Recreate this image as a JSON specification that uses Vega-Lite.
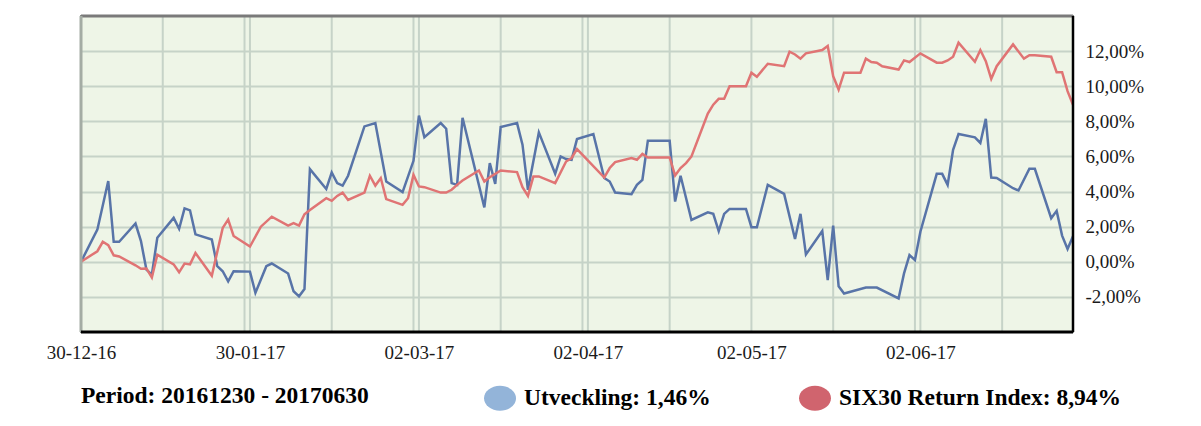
{
  "$schema": "https://vega.github.io/schema/vega-lite/v6.json",
  "width": 992,
  "height": 316,
  "autosize": {"type": "none"},
  "padding": {"left": 81, "top": 16, "right": 128, "bottom": 94},
  "background": "#ffffff",
  "config": {
    "view": {"fill": "#EEF5E7", "stroke": "#8A8F8A", "strokeWidth": 2},
    "font": "Liberation Serif"
  },
  "datasets": {
    "grid": [
      {"date": "2017/01/14"}, {"date": "2017/01/29"}, {"date": "2017/01/30"}, {"date": "2017/02/14"},
      {"date": "2017/03/01"}, {"date": "2017/03/02"}, {"date": "2017/03/17"}, {"date": "2017/04/01"},
      {"date": "2017/04/02"}, {"date": "2017/04/17"}, {"date": "2017/05/02"}, {"date": "2017/05/17"},
      {"date": "2017/06/01"}, {"date": "2017/06/02"}, {"date": "2017/06/17"}
    ],
    "frame": [{"top": 14, "bottom": -4, "left": "2016/12/30", "right": "2017/06/30"}],
    "utv": [
      {"date": "2016/12/30", "value": 0}, {"date": "2017/01/02", "value": 1.83}, {"date": "2017/01/04", "value": 4.6},
      {"date": "2017/01/05", "value": 1.14}, {"date": "2017/01/06", "value": 1.14}, {"date": "2017/01/09", "value": 2.18},
      {"date": "2017/01/10", "value": 1.18}, {"date": "2017/01/11", "value": -0.45}, {"date": "2017/01/12", "value": -0.73},
      {"date": "2017/01/13", "value": 1.37}, {"date": "2017/01/16", "value": 2.5}, {"date": "2017/01/17", "value": 1.88},
      {"date": "2017/01/18", "value": 3.04}, {"date": "2017/01/19", "value": 2.93}, {"date": "2017/01/20", "value": 1.56},
      {"date": "2017/01/23", "value": 1.27}, {"date": "2017/01/24", "value": -0.25}, {"date": "2017/01/25", "value": -0.54},
      {"date": "2017/01/26", "value": -1.12}, {"date": "2017/01/27", "value": -0.54}, {"date": "2017/01/30", "value": -0.56},
      {"date": "2017/01/31", "value": -1.77}, {"date": "2017/02/02", "value": -0.25}, {"date": "2017/02/03", "value": -0.1},
      {"date": "2017/02/06", "value": -0.67}, {"date": "2017/02/07", "value": -1.68}, {"date": "2017/02/08", "value": -1.97},
      {"date": "2017/02/09", "value": -1.55}, {"date": "2017/02/10", "value": 5.28}, {"date": "2017/02/13", "value": 4.15},
      {"date": "2017/02/14", "value": 5.09}, {"date": "2017/02/15", "value": 4.48}, {"date": "2017/02/16", "value": 4.34},
      {"date": "2017/02/17", "value": 4.9}, {"date": "2017/02/20", "value": 7.71}, {"date": "2017/02/22", "value": 7.9},
      {"date": "2017/02/24", "value": 4.57}, {"date": "2017/02/27", "value": 3.97}, {"date": "2017/03/01", "value": 5.75},
      {"date": "2017/03/02", "value": 8.33}, {"date": "2017/03/03", "value": 7.1}, {"date": "2017/03/06", "value": 7.9},
      {"date": "2017/03/07", "value": 7.58}, {"date": "2017/03/08", "value": 4.48}, {"date": "2017/03/09", "value": 4.38},
      {"date": "2017/03/10", "value": 8.2}, {"date": "2017/03/14", "value": 3.1}, {"date": "2017/03/15", "value": 5.62},
      {"date": "2017/03/16", "value": 4.44}, {"date": "2017/03/17", "value": 7.68}, {"date": "2017/03/20", "value": 7.9},
      {"date": "2017/03/21", "value": 6.67}, {"date": "2017/03/22", "value": 4.1}, {"date": "2017/03/24", "value": 7.37},
      {"date": "2017/03/27", "value": 5.01}, {"date": "2017/03/28", "value": 6.0}, {"date": "2017/03/29", "value": 5.85},
      {"date": "2017/03/30", "value": 5.81}, {"date": "2017/03/31", "value": 6.99}, {"date": "2017/04/03", "value": 7.28},
      {"date": "2017/04/05", "value": 4.77}, {"date": "2017/04/06", "value": 4.57}, {"date": "2017/04/07", "value": 3.94},
      {"date": "2017/04/10", "value": 3.85}, {"date": "2017/04/11", "value": 4.38}, {"date": "2017/04/12", "value": 4.67},
      {"date": "2017/04/13", "value": 6.9}, {"date": "2017/04/17", "value": 6.9}, {"date": "2017/04/18", "value": 3.43},
      {"date": "2017/04/19", "value": 4.9}, {"date": "2017/04/21", "value": 2.38}, {"date": "2017/04/24", "value": 2.82},
      {"date": "2017/04/25", "value": 2.73}, {"date": "2017/04/26", "value": 1.75}, {"date": "2017/04/27", "value": 2.73},
      {"date": "2017/04/28", "value": 3.01}, {"date": "2017/05/01", "value": 3.01}, {"date": "2017/05/02", "value": 1.97},
      {"date": "2017/05/03", "value": 1.97}, {"date": "2017/05/05", "value": 4.38}, {"date": "2017/05/08", "value": 3.87},
      {"date": "2017/05/10", "value": 1.3}, {"date": "2017/05/11", "value": 2.73}, {"date": "2017/05/12", "value": 0.42},
      {"date": "2017/05/15", "value": 1.75}, {"date": "2017/05/16", "value": -1.05}, {"date": "2017/05/17", "value": 2.06},
      {"date": "2017/05/18", "value": -1.39}, {"date": "2017/05/19", "value": -1.81}, {"date": "2017/05/23", "value": -1.47},
      {"date": "2017/05/25", "value": -1.47}, {"date": "2017/05/29", "value": -2.09}, {"date": "2017/05/30", "value": -0.66},
      {"date": "2017/05/31", "value": 0.38}, {"date": "2017/06/01", "value": 0.1}, {"date": "2017/06/02", "value": 1.71},
      {"date": "2017/06/05", "value": 5.01}, {"date": "2017/06/06", "value": 5.01}, {"date": "2017/06/07", "value": 4.38},
      {"date": "2017/06/08", "value": 6.38}, {"date": "2017/06/09", "value": 7.28}, {"date": "2017/06/12", "value": 7.09},
      {"date": "2017/06/13", "value": 6.77}, {"date": "2017/06/14", "value": 8.14}, {"date": "2017/06/15", "value": 4.8},
      {"date": "2017/06/16", "value": 4.77}, {"date": "2017/06/19", "value": 4.19}, {"date": "2017/06/20", "value": 4.06},
      {"date": "2017/06/22", "value": 5.3}, {"date": "2017/06/23", "value": 5.3}, {"date": "2017/06/26", "value": 2.48},
      {"date": "2017/06/27", "value": 2.9}, {"date": "2017/06/28", "value": 1.49}, {"date": "2017/06/29", "value": 0.73},
      {"date": "2017/06/30", "value": 1.46}
    ],
    "six": [
      {"date": "2016/12/30", "value": 0}, {"date": "2017/01/02", "value": 0.6}, {"date": "2017/01/03", "value": 1.14},
      {"date": "2017/01/04", "value": 0.95}, {"date": "2017/01/05", "value": 0.37}, {"date": "2017/01/06", "value": 0.3},
      {"date": "2017/01/09", "value": -0.2}, {"date": "2017/01/10", "value": -0.4}, {"date": "2017/01/11", "value": -0.38},
      {"date": "2017/01/12", "value": -0.9}, {"date": "2017/01/13", "value": 0.4}, {"date": "2017/01/16", "value": -0.15},
      {"date": "2017/01/17", "value": -0.6}, {"date": "2017/01/18", "value": -0.1}, {"date": "2017/01/19", "value": -0.15},
      {"date": "2017/01/20", "value": 0.5}, {"date": "2017/01/23", "value": -0.8}, {"date": "2017/01/25", "value": 1.93},
      {"date": "2017/01/26", "value": 2.4}, {"date": "2017/01/27", "value": 1.47}, {"date": "2017/01/30", "value": 0.87},
      {"date": "2017/02/01", "value": 2.0}, {"date": "2017/02/03", "value": 2.57}, {"date": "2017/02/06", "value": 2.06},
      {"date": "2017/02/07", "value": 2.2}, {"date": "2017/02/08", "value": 2.06}, {"date": "2017/02/09", "value": 2.71},
      {"date": "2017/02/10", "value": 2.95}, {"date": "2017/02/13", "value": 3.62}, {"date": "2017/02/14", "value": 3.47},
      {"date": "2017/02/15", "value": 3.75}, {"date": "2017/02/16", "value": 3.94}, {"date": "2017/02/17", "value": 3.52},
      {"date": "2017/02/20", "value": 3.94}, {"date": "2017/02/21", "value": 4.9}, {"date": "2017/02/22", "value": 4.34},
      {"date": "2017/02/23", "value": 4.77}, {"date": "2017/02/24", "value": 3.57}, {"date": "2017/02/27", "value": 3.24},
      {"date": "2017/02/28", "value": 3.62}, {"date": "2017/03/01", "value": 4.95}, {"date": "2017/03/02", "value": 4.29},
      {"date": "2017/03/03", "value": 4.25}, {"date": "2017/03/06", "value": 3.94}, {"date": "2017/03/07", "value": 3.94},
      {"date": "2017/03/08", "value": 4.1}, {"date": "2017/03/09", "value": 4.38}, {"date": "2017/03/10", "value": 4.63},
      {"date": "2017/03/13", "value": 5.2}, {"date": "2017/03/14", "value": 4.57}, {"date": "2017/03/15", "value": 4.82},
      {"date": "2017/03/17", "value": 5.2}, {"date": "2017/03/20", "value": 5.11}, {"date": "2017/03/21", "value": 4.25},
      {"date": "2017/03/22", "value": 3.75}, {"date": "2017/03/23", "value": 4.86}, {"date": "2017/03/24", "value": 4.86},
      {"date": "2017/03/27", "value": 4.48}, {"date": "2017/03/29", "value": 5.71}, {"date": "2017/03/30", "value": 5.91},
      {"date": "2017/03/31", "value": 6.42}, {"date": "2017/04/05", "value": 4.8}, {"date": "2017/04/06", "value": 5.34},
      {"date": "2017/04/07", "value": 5.68}, {"date": "2017/04/10", "value": 5.91}, {"date": "2017/04/11", "value": 5.81},
      {"date": "2017/04/12", "value": 6.14}, {"date": "2017/04/13", "value": 5.94}, {"date": "2017/04/17", "value": 5.94},
      {"date": "2017/04/18", "value": 4.91}, {"date": "2017/04/19", "value": 5.34}, {"date": "2017/04/20", "value": 5.62},
      {"date": "2017/04/21", "value": 6.0}, {"date": "2017/04/24", "value": 8.44}, {"date": "2017/04/25", "value": 8.95},
      {"date": "2017/04/26", "value": 9.28}, {"date": "2017/04/27", "value": 9.28}, {"date": "2017/04/28", "value": 10.0},
      {"date": "2017/05/01", "value": 10.0}, {"date": "2017/05/02", "value": 10.77}, {"date": "2017/05/03", "value": 10.54},
      {"date": "2017/05/05", "value": 11.28}, {"date": "2017/05/08", "value": 11.14}, {"date": "2017/05/09", "value": 11.97},
      {"date": "2017/05/10", "value": 11.81}, {"date": "2017/05/11", "value": 11.57}, {"date": "2017/05/12", "value": 11.87},
      {"date": "2017/05/15", "value": 12.06}, {"date": "2017/05/16", "value": 12.29}, {"date": "2017/05/17", "value": 10.57},
      {"date": "2017/05/18", "value": 9.81}, {"date": "2017/05/19", "value": 10.77}, {"date": "2017/05/22", "value": 10.77},
      {"date": "2017/05/23", "value": 11.57}, {"date": "2017/05/24", "value": 11.38}, {"date": "2017/05/25", "value": 11.34},
      {"date": "2017/05/26", "value": 11.14}, {"date": "2017/05/29", "value": 10.95}, {"date": "2017/05/30", "value": 11.47},
      {"date": "2017/05/31", "value": 11.38}, {"date": "2017/06/02", "value": 11.87}, {"date": "2017/06/05", "value": 11.34},
      {"date": "2017/06/06", "value": 11.34}, {"date": "2017/06/07", "value": 11.47}, {"date": "2017/06/08", "value": 11.68},
      {"date": "2017/06/09", "value": 12.48}, {"date": "2017/06/12", "value": 11.39}, {"date": "2017/06/13", "value": 12.06},
      {"date": "2017/06/14", "value": 11.43}, {"date": "2017/06/15", "value": 10.42}, {"date": "2017/06/16", "value": 11.14},
      {"date": "2017/06/19", "value": 12.38}, {"date": "2017/06/21", "value": 11.57}, {"date": "2017/06/22", "value": 11.77},
      {"date": "2017/06/23", "value": 11.77}, {"date": "2017/06/26", "value": 11.68}, {"date": "2017/06/27", "value": 10.8},
      {"date": "2017/06/28", "value": 10.8}, {"date": "2017/06/29", "value": 9.72}, {"date": "2017/06/30", "value": 8.94}
    ]
  },
  "encoding": {
    "x": {
      "field": "date",
      "type": "temporal",
      "scale": {"domain": [{"year": 2016, "month": 12, "date": 30}, {"year": 2017, "month": 6, "date": 30}]},
      "axis": {
        "title": null,
        "values": [
          {"year": 2016, "month": 12, "date": 30}, {"year": 2017, "month": 1, "date": 30},
          {"year": 2017, "month": 3, "date": 2}, {"year": 2017, "month": 4, "date": 2},
          {"year": 2017, "month": 5, "date": 2}, {"year": 2017, "month": 6, "date": 2}
        ],
        "format": "%d-%m-%y",
        "domain": false,
        "ticks": false,
        "grid": false,
        "labelFont": "Liberation Serif",
        "labelFontSize": 19,
        "labelColor": "#1a1a1a",
        "labelPadding": 11,
        "labelOverlap": false,
        "labelFlush": false
      }
    },
    "y": {
      "field": "value",
      "type": "quantitative",
      "scale": {"domain": [-4, 14], "nice": false, "zero": false},
      "axis": {
        "title": null,
        "orient": "right",
        "values": [-2, 0, 2, 4, 6, 8, 10, 12],
        "labelExpr": "replace(replace(format(datum.value, '.2f'), '.', ','), '\u2212', '-') + '%'",
        "domain": false,
        "ticks": false,
        "grid": true,
        "gridColor": "#C6D3C8",
        "gridWidth": 2,
        "labelFont": "Liberation Serif",
        "labelFontSize": 19,
        "labelColor": "#1a1a1a",
        "labelPadding": 12
      }
    }
  },
  "layer": [
    {
      "data": {"name": "grid"},
      "mark": {"type": "rule", "color": "#C6D3C8", "strokeWidth": 2},
      "encoding": {"y": null}
    },
    {
      "mark": {"type": "rule", "color": "#000000", "strokeWidth": 1.6},
      "encoding": {"x": null, "y": {"datum": 0, "type": "quantitative"}}
    },
    {
      "data": {"name": "utv"},
      "mark": {"type": "line", "strokeWidth": 2.5},
      "encoding": {
        "color": {
          "datum": "Utveckling: 1,46%",
          "type": "nominal",
          "scale": {"domain": ["Utveckling: 1,46%", "SIX30 Return Index: 8,94%"], "range": ["#5874A8", "#E07474"]},
          "legend": {
            "title": "Period: 20161230 - 20170630",
            "orient": "bottom",
            "direction": "horizontal",
            "titleOrient": "left",
            "titleFont": "Liberation Serif",
            "titleFontSize": 23.5,
            "titleFontWeight": "bold",
            "titleColor": "#000000",
            "titlePadding": 115,
            "titleLimit": 400,
            "labelFont": "Liberation Serif",
            "labelFontSize": 23.5,
            "labelFontWeight": "bold",
            "labelColor": "#000000",
            "labelLimit": 400,
            "labelOffset": 8,
            "columnPadding": 88,
            "symbolType": "M -1 0 A 1 0.78 0 1 0 1 0 A 1 0.78 0 1 0 -1 0 Z",
            "symbolSize": 1024,
            "symbolStrokeWidth": 0,
            "offset": 20,
            "encode": {
              "symbols": {
                "update": {
                  "fill": {"signal": "datum.value === 'Utveckling: 1,46%' ? '#93B4D9' : '#D0646E'"},
                  "stroke": {"value": "transparent"},
                  "opacity": {"value": 1}
                }
              }
            }
          }
        }
      }
    },
    {
      "data": {"name": "six"},
      "mark": {"type": "line", "strokeWidth": 2.5},
      "encoding": {"color": {"datum": "SIX30 Return Index: 8,94%", "type": "nominal"}}
    },
    {
      "data": {"name": "frame"},
      "mark": {"type": "rule", "color": "#7A7A7A", "strokeWidth": 3},
      "encoding": {"x": null, "y": {"field": "top", "type": "quantitative"}}
    },
    {
      "data": {"name": "frame"},
      "mark": {"type": "rule", "color": "#A4ACA4", "strokeWidth": 3},
      "encoding": {"y": null, "x": {"field": "left", "type": "temporal"}}
    },
    {
      "data": {"name": "frame"},
      "mark": {"type": "rule", "color": "#000000", "strokeWidth": 2.5},
      "encoding": {"y": null, "x": {"field": "right", "type": "temporal"}}
    },
    {
      "data": {"name": "frame"},
      "mark": {"type": "rule", "color": "#000000", "strokeWidth": 3},
      "encoding": {"x": null, "y": {"field": "bottom", "type": "quantitative"}}
    }
  ]
}
